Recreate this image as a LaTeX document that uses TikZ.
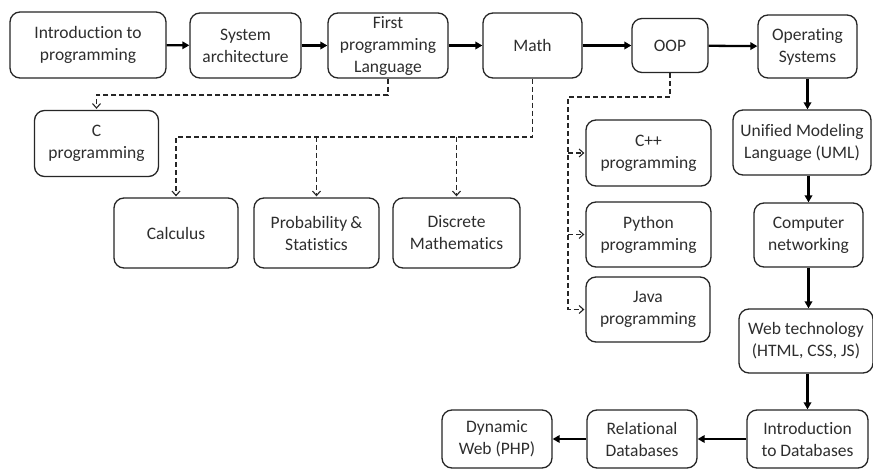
\documentclass[tikz,border=0pt]{standalone}
\usepackage{fontspec}
\setmainfont{Carlito}[Ligatures={NoCommon,NoDiscretionary}]
\usetikzlibrary{arrows.meta,calc}
\definecolor{txt}{HTML}{2E2E2E}
\definecolor{edge}{HTML}{262626}
\begin{document}
\begin{tikzpicture}[x=1pt,y=-1pt,
  box/.style={draw=edge, line width=1.3pt, rounded corners=10pt, align=center, inner sep=0pt,
    text=txt, font=\fontsize{17.5}{22}\selectfont},
  flow/.style={draw=black, line width=2.3pt, -{Triangle[length=7pt,width=7.5pt]}},
  opt/.style={draw=edge, line width=1.5pt, dash pattern=on 5pt off 3pt, -{Straight Barb[length=4.5pt,width=8pt,line width=1.1pt]}, shorten >=1pt}]
\useasboundingbox (0,0) rectangle (873,473);
\fill[white] (0,0) rectangle (873,473);

\node[box, minimum width=156, minimum height=66] (intro) at (88,45) {Introduction to\\programming};
\node[box, minimum width=111, minimum height=65] (sys) at (245.5,45.5) {System\\architecture};
\node[box, minimum width=120, minimum height=65] (fpl) at (388,45.5) {First\\programming\\Language};
\node[box, minimum width=99, minimum height=65] (math) at (532.5,45.5) {Math};
\node[box, minimum width=76, minimum height=54] (oop) at (670,45.5) {OOP};
\node[box, minimum width=99, minimum height=63] (os) at (807.5,46.5) {Operating\\Systems};

\node[box, minimum width=124, minimum height=66] (cprog) at (96.5,143.5) {C\\programming};
\node[box, minimum width=124, minimum height=70] (calc) at (176,233) {Calculus};
\node[box, minimum width=125, minimum height=70] (prob) at (316.5,233) {Probability\,\&\\Statistics};
\node[box, minimum width=127, minimum height=70] (disc) at (456.5,233) {Discrete\\Mathematics};

\node[box, minimum width=125, minimum height=66] (cpp) at (648.5,153) {C++\\programming};
\node[box, minimum width=125, minimum height=65] (py) at (648.5,234.5) {Python\\programming};
\node[box, minimum width=124, minimum height=65] (java) at (648,309.5) {Java\\programming};

\node[box, minimum width=138, minimum height=65] (uml) at (802,142.5) {Unified Modeling\\Language (UML)};
\node[box, minimum width=109, minimum height=64] (cn) at (808.5,235) {Computer\\networking};
\node[box, minimum width=134, minimum height=64] (web) at (806,341) {Web technology\\(HTML, CSS, JS)};
\node[box, minimum width=121, minimum height=58] (idb) at (807.5,439) {Introduction\\to Databases};
\node[box, minimum width=110, minimum height=58] (rdb) at (642,439) {Relational\\Databases};
\node[box, minimum width=110, minimum height=58] (dyn) at (497,439) {Dynamic\\Web (PHP)};

% main flow
\draw[flow] (intro) -- (sys);
\draw[flow] (sys) -- (fpl);
\draw[flow] (fpl) -- (math);
\draw[flow] (math) -- (oop);
\draw[flow] (oop) -- (os);
\draw[flow] (os.south) -- (os.south |- uml.north);
\draw[flow] (cn.north |- uml.south) -- (cn.north);
\draw[flow] (cn.south) -- (cn.south |- web.north);
\draw[flow] (idb.north |- web.south) -- (idb.north);
\draw[flow] (idb.west) -- (rdb.east);
\draw[flow] (rdb.west) -- (dyn.east);

% optional branches
\coordinate (d1) at (388,95);
\coordinate (d2) at (533,137);
\coordinate (d3) at (568,97);
\draw[opt] (fpl.south) -- (fpl.south |- d1) -| (cprog.north);
\draw[opt] (math.south) -- (math.south |- d2) -| (calc.north);
\draw[opt] (prob.north |- d2) -- (prob.north);
\draw[opt] (disc.north |- d2) -- (disc.north);
\draw[opt] (oop.south) |- (d3) |- (java.west);
\draw[opt] (d3 |- cpp.west) -- (cpp.west);
\draw[opt] (d3 |- py.west) -- (py.west);
\end{tikzpicture}
\end{document}
